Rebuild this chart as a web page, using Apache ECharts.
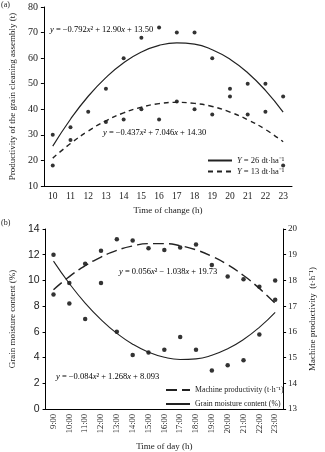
<!DOCTYPE html>
<html>
<head>
<meta charset="utf-8">
<script src="https://cdn.jsdelivr.net/npm/echarts@6/dist/echarts.min.js"></script>
<style>
  html, body { margin: 0; padding: 0; background: #fff; }
  #chart { width: 325px; height: 452px; }
</style>
</head>
<body>
<div id="chart"></div>
<script>
// (a) 时间 vs 清选装置生产率
var hoursA = ['10', '11', '12', '13', '14', '15', '16', '17', '18', '19', '20', '21', '22', '23']
var pts26 = [30, 33, 39, 48, 60, 68, 72, 70, 70, 60, 48, 50, 50, 45]
var pts13 = [18, 28, null, 35, 36, 40, 36, 43, 40, 38, 45, 38, 39, 18]
// fitted curves
var fit26 = [25.6, 36.1, 45.1, 52.4, 58.2, 62.4, 65.0, 66.0, 65.5, 63.3, 59.6, 54.3, 47.4, 38.9]
var fit13 = [20.9, 26.6, 31.5, 35.5, 38.6, 40.8, 42.2, 42.7, 42.3, 41.1, 38.9, 35.9, 32.1, 27.3]

// (b) 一天中的时间
var hoursB = ['9:00', '10:00', '11:00', '12:00', '13:00', '14:00', '15:00', '16:00',
  '17:00', '18:00', '19:00', '20:00', '21:00', '22:00', '23:00']
var prodPts = [17.45, 17.9, 18.65, 19.15, 19.6, 19.55, 19.25, 19.18, 19.28, 19.4, 18.6, 18.15, 18.05, 17.75, 17.25]
var moistPts = [12.0, 8.2, 7.0, 9.8, 6.0, 4.2, 4.4, 4.6, 5.6, 4.6, 3.0, 3.4, 3.8, 5.8, 10.0]
var prodFit = [17.64, 18.15, 18.57, 18.91, 19.17, 19.34, 19.43, 19.43, 19.35, 19.19, 18.94, 18.61, 18.19, 17.69, 17.11]
var moistFit = [11.5, 9.76, 8.24, 6.95, 5.88, 5.04, 4.42, 4.02, 3.85, 3.9, 4.18, 4.68, 5.4, 6.35, 7.52]

var serif = 'Liberation Serif'
var ink = '#1a1a1a'
var eqRich = {
  i: { fontStyle: 'italic', fontFamily: serif, fontSize: 8.5, color: ink },
  n: { fontFamily: serif, fontSize: 8.5, color: ink }
}

var chart = echarts.init(document.getElementById('chart'))
var axisLine = { lineStyle: { color: '#000', width: 1 } }
var axisTick = { length: 3, lineStyle: { color: '#000' } }

var option = {
  animation: false,
  backgroundColor: '#fff',
  textStyle: { fontFamily: serif, color: ink },
  grid: [
    { left: 43, right: 33, top: 7, height: 179 },
    { left: 42, right: 29, top: 229, height: 187 }
  ],
  xAxis: [{
    gridIndex: 0,
    type: 'category',
    data: hoursA,
    boundaryGap: true,
    name: 'Time of change (h)',
    nameLocation: 'middle',
    nameGap: 20,
    nameTextStyle: { fontFamily: serif, fontSize: 9, color: ink },
    axisLine: axisLine,
    axisTick: axisTick,
    axisLabel: { fontFamily: serif, fontSize: 9.5, color: ink, margin: 5, interval: 0 },
    splitLine: { show: false }
  }, {
    gridIndex: 1,
    type: 'category',
    data: hoursB,
    boundaryGap: true,
    name: 'Time of day (h)',
    nameLocation: 'middle',
    nameGap: 33,
    nameMoveOverlap: false,
    nameTextStyle: { fontFamily: serif, fontSize: 9, color: ink },
    axisLine: axisLine,
    axisTick: axisTick,
    axisLabel: { fontFamily: serif, fontSize: 8.5, color: ink, margin: 5, rotate: 90, interval: 0 },
    splitLine: { show: false }
  }],
  yAxis: [{
    gridIndex: 0,
    type: 'value',
    min: 10,
    max: 80,
    interval: 10,
    name: 'Productivity of the grain cleaning assembly (t)',
    nameLocation: 'middle',
    nameGap: 26,
    nameTextStyle: { fontFamily: serif, fontSize: 9, color: ink },
    axisLine: { show: true, lineStyle: { color: '#000' } },
    axisTick: { show: true, length: 3, lineStyle: { color: '#000' } },
    axisLabel: { fontFamily: serif, fontSize: 10, color: ink, margin: 6 },
    splitLine: { show: false }
  }, {
    gridIndex: 1,
    type: 'value',
    min: 0,
    max: 14,
    interval: 2,
    name: 'Grain moisture content (%)',
    nameLocation: 'middle',
    nameGap: 26,
    nameTextStyle: { fontFamily: serif, fontSize: 9, color: ink },
    axisLine: { show: true, lineStyle: { color: '#000' } },
    axisTick: { show: true, length: 3, lineStyle: { color: '#000' } },
    axisLabel: { fontFamily: 'Liberation Sans', fontSize: 10.5, color: ink, margin: 6 },
    splitLine: { show: false }
  }, {
    gridIndex: 1,
    type: 'value',
    position: 'right',
    min: 13,
    max: 20,
    interval: 1,
    name: 'Machine productivity  (t·h⁻¹)',
    nameLocation: 'middle',
    nameRotate: 90,
    nameGap: 18,
    nameTextStyle: { fontFamily: serif, fontSize: 9, color: ink },
    axisLine: { show: true, lineStyle: { color: '#000' } },
    axisTick: { show: true, length: 3, lineStyle: { color: '#000' } },
    axisLabel: { fontFamily: serif, fontSize: 9, color: ink, margin: 5 },
    splitLine: { show: false }
  }],
  legend: [{
    orient: 'vertical',
    left: 202,
    top: 151,
    itemWidth: 24,
    itemHeight: 8,
    itemGap: 2,
    itemStyle: { opacity: 0 },
    data: ['Y = 26 dt·ha⁻¹', 'Y = 13 dt·ha⁻¹'],
    formatter: function (name) {
      return '{i|Y}{n|' + name.slice(1) + '}'
    },
    textStyle: { rich: eqRich }
  }, {
    orient: 'vertical',
    left: 160,
    top: 381,
    itemWidth: 24,
    itemHeight: 8,
    itemGap: 6,
    itemStyle: { opacity: 0 },
    data: ['Machine productivity (t·h⁻¹)', 'Grain moisture content (%)'],
    textStyle: { fontFamily: serif, fontSize: 7.8, color: ink }
  }],
  graphic: [
    { type: 'text', left: 1, top: 1, style: { text: '(a)', font: '8px "Liberation Serif"', fill: ink } },
    { type: 'text', left: 1, top: 219, style: { text: '(b)', font: '8px "Liberation Serif"', fill: ink } },
    {
      type: 'text', left: 50, top: 25,
      style: { text: '{i|y}{n| = −0.792}{i|x}{n|² + 12.90}{i|x}{n| + 13.50}', rich: eqRich }
    },
    {
      type: 'text', left: 103, top: 128,
      style: { text: '{i|y}{n| = −0.437}{i|x}{n|² + 7.046}{i|x}{n| + 14.30}', rich: eqRich }
    },
    {
      type: 'text', left: 119, top: 267,
      style: { text: '{i|y}{n| = 0.056}{i|x}{n|² − 1.038}{i|x}{n| + 19.73}', rich: eqRich }
    },
    {
      type: 'text', left: 56, top: 372,
      style: { text: '{i|y}{n| = −0.084}{i|x}{n|² + 1.268}{i|x}{n| + 8.093}', rich: eqRich }
    }
  ],
  series: [{
    name: 'Y = 26 dt·ha⁻¹',
    type: 'line',
    xAxisIndex: 0,
    yAxisIndex: 0,
    data: fit26,
    smooth: true,
    symbol: 'none',
    lineStyle: { color: '#222', width: 1.2, type: 'solid' },
    itemStyle: { color: '#222' }
  }, {
    name: 'Y = 13 dt·ha⁻¹',
    type: 'line',
    xAxisIndex: 0,
    yAxisIndex: 0,
    data: fit13,
    smooth: true,
    symbol: 'none',
    lineStyle: { color: '#222', width: 1.4, type: [5, 4] },
    itemStyle: { color: '#222' }
  }, {
    name: 'pts26',
    type: 'scatter',
    xAxisIndex: 0,
    yAxisIndex: 0,
    data: pts26,
    symbolSize: 4,
    itemStyle: { color: '#000' }
  }, {
    name: 'pts13',
    type: 'scatter',
    xAxisIndex: 0,
    yAxisIndex: 0,
    data: pts13,
    symbolSize: 4,
    itemStyle: { color: '#000' }
  }, {
    name: 'Machine productivity (t·h⁻¹)',
    type: 'line',
    xAxisIndex: 1,
    yAxisIndex: 2,
    data: prodFit,
    smooth: true,
    symbol: 'none',
    lineStyle: { color: '#222', width: 1.4, type: [11, 5] },
    itemStyle: { color: '#222' }
  }, {
    name: 'Grain moisture content (%)',
    type: 'line',
    xAxisIndex: 1,
    yAxisIndex: 1,
    data: moistFit,
    smooth: true,
    symbol: 'none',
    lineStyle: { color: '#222', width: 1.1, type: 'solid' },
    itemStyle: { color: '#222' }
  }, {
    name: 'prodPts',
    type: 'scatter',
    xAxisIndex: 1,
    yAxisIndex: 2,
    data: prodPts,
    symbolSize: 4.5,
    itemStyle: { color: '#000' }
  }, {
    name: 'moistPts',
    type: 'scatter',
    xAxisIndex: 1,
    yAxisIndex: 1,
    data: moistPts,
    symbolSize: 4.5,
    itemStyle: { color: '#000' }
  }]
}
chart.setOption(option)
</script>
</body>
</html>
